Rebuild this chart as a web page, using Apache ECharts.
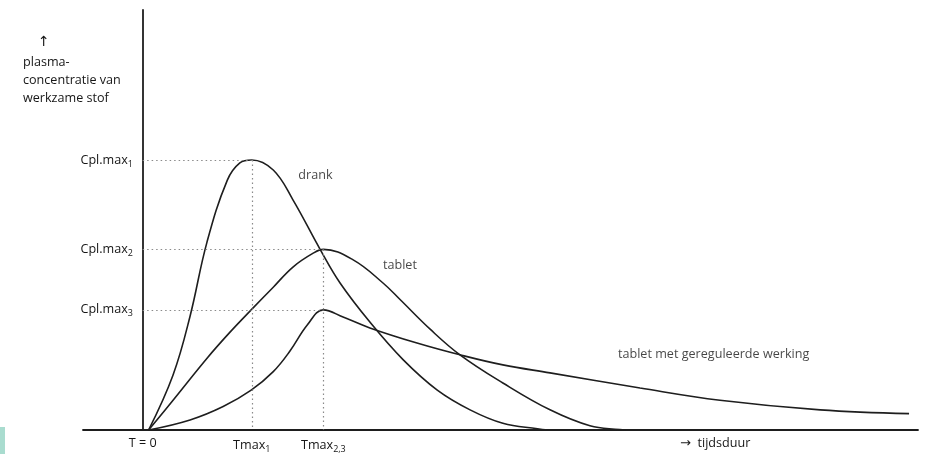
<!DOCTYPE html>
<html>
<head>
<meta charset="utf-8">
<script src="https://cdn.jsdelivr.net/npm/echarts@6/dist/echarts.min.js"></script>
<style>html,body{margin:0;padding:0;background:#fff}#c{width:932px;height:454px}</style>
</head>
<body>
<div id="c"></div>
<script>
// curves: [time, concentration] (arbitrary units)
var drank = [[1.0,0],[5.1,13.1],[7.95,27.1],[10.8,44.8],[14.2,59.5],[16.3,63.6],[18.3,64.3],[21.9,61.9],[25.2,54.8],[29.8,42.9],[33.1,35.0],[38.1,25.7],[43.7,16.7],[49.4,9.5],[54.9,4.8],[60.4,1.6],[66.2,0.3],[68.0,0]];
var tablet = [[1.0,0],[5.1,7.1],[10.8,17.1],[14.65,23.3],[18.2,28.6],[21.9,34.0],[25.2,38.8],[28.6,42.1],[30.3,43.0],[35.3,40.5],[40.3,35.0],[43.2,31.0],[48.2,24.0],[53.2,17.9],[60.4,11.2],[68.3,4.8],[75.0,1.0],[80.0,0.1],[81.0,0]];
var gereguleerd = [[1.0,0],[7.95,2.4],[13.5,5.6],[18.2,9.5],[21.9,13.9],[24.7,18.8],[27.6,25.0],[30.3,28.6],[33.6,26.9],[38.1,24.3],[46.0,20.7],[53.2,17.9],[60.4,15.5],[68.3,13.6],[83.4,10.0],[96.8,7.1],[113.6,4.8],[128.5,3.9]];

var tmax1 = 18.3, tmax23 = 30.3;
var cplmax1 = 64.3, cplmax2 = 43.0, cplmax3 = 28.6;

var yTickValues = [cplmax3, cplmax2, cplmax1];
var yTickLabels = ['Cpl.max{sub|3}', 'Cpl.max{sub|2}', 'Cpl.max{sub|1}'];
var xTickValues = [0, tmax1, tmax23, 96];
var xTickLabels = ['T = 0', 'Tmax{sub|1}', 'Tmax{sub|2,3}', '{arr|→}  tijdsduur'];

var curveLabels = [
  {name: 'drank', value: [26.1, 60.7]},
  {name: 'tablet', value: [40.3, 39.3]},
  {name: 'tablet met gereguleerde werking', value: [79.7, 17.9]}
];
var yTitleLines = ['{arrUp|↑}', 'plasma-', 'concentratie van', 'werkzame stof'];

var FONT = '"Open Sans", "Noto Sans", sans-serif';
var FS = 12.6;
var INK = '#161616';
var rich = {
  sub: {fontSize: 9, fontFamily: FONT, color: INK, padding: [8, 0, 0, 0]},
  arr: {fontSize: 13, fontFamily: '"DejaVu Sans"', color: INK},
  arrUp: {fontSize: 14, fontFamily: '"DejaVu Sans"', color: INK, lineHeight: 22, padding: [0, 0, 0, 15]}
};

function findLabel(vals, labs, v) {
  for (var i = 0; i < vals.length; i++) if (Math.abs(vals[i] - v) < 1e-6) return labs[i];
  return '';
}

var dotted = {color: '#8a8a8a', type: [1.5, 3], width: 1.2};
function seg(a, b) { return [{coord: a}, {coord: b}]; }
var curveStyle = {color: '#1e1e1e', width: 1.6};

var chart = echarts.init(document.getElementById('c'), null, {renderer: 'canvas'});
chart.setOption({
  animation: false,
  backgroundColor: '#fff',
  title: {
    text: yTitleLines.join('\n'),
    left: 23, top: 31, padding: 0,
    textStyle: {fontSize: FS, fontWeight: 'normal', fontFamily: FONT, color: INK, lineHeight: 18, rich: rich}
  },
  grid: {left: 83, right: 14, top: 10, bottom: 24},
  xAxis: {
    type: 'value', min: -10, max: 130,
    axisLine: {show: true, onZero: false, lineStyle: {color: '#1e1e1e', width: 1.8}},
    axisTick: {show: false}, splitLine: {show: false},
    axisLabel: {
      customValues: xTickValues, margin: 7, fontSize: FS, fontFamily: FONT, color: INK,
      formatter: function (v) { return findLabel(xTickValues, xTickLabels, v); },
      rich: rich
    }
  },
  yAxis: {
    type: 'value', min: 0, max: 100,
    axisLine: {show: true, onZero: true, lineStyle: {color: '#1e1e1e', width: 1.8}},
    axisTick: {show: false}, splitLine: {show: false},
    axisLabel: {
      customValues: yTickValues, margin: -50, fontSize: FS, fontFamily: FONT, color: INK,
      formatter: function (v) { return findLabel(yTickValues, yTickLabels, v); },
      rich: rich
    }
  },
  series: [
    {type: 'line', data: drank, smooth: 0.4, symbol: 'none', lineStyle: curveStyle,
      markLine: {silent: true, symbol: 'none', label: {show: false}, lineStyle: dotted,
        data: [seg([0, cplmax1], [tmax1, cplmax1]), seg([tmax1, cplmax1], [tmax1, 0])]}},
    {type: 'line', data: tablet, smooth: 0.4, symbol: 'none', lineStyle: curveStyle,
      markLine: {silent: true, symbol: 'none', label: {show: false}, lineStyle: dotted,
        data: [seg([0, cplmax2], [tmax23, cplmax2]), seg([tmax23, cplmax2], [tmax23, 0])]}},
    {type: 'line', data: gereguleerd, smooth: 0.4, symbol: 'none', lineStyle: curveStyle,
      markLine: {silent: true, symbol: 'none', label: {show: false}, lineStyle: dotted,
        data: [seg([0, cplmax3], [tmax23, cplmax3])]}},
    {type: 'scatter', data: curveLabels, symbolSize: 0, silent: true,
      label: {show: true, position: 'right', distance: 0, formatter: '{b}', fontSize: FS, fontFamily: FONT, color: INK}}
  ],
  graphic: [
    {type: 'rect', left: 0, top: 427, shape: {width: 5, height: 27}, style: {fill: '#a9dccf'}}
  ]
});
</script>
</body>
</html>
